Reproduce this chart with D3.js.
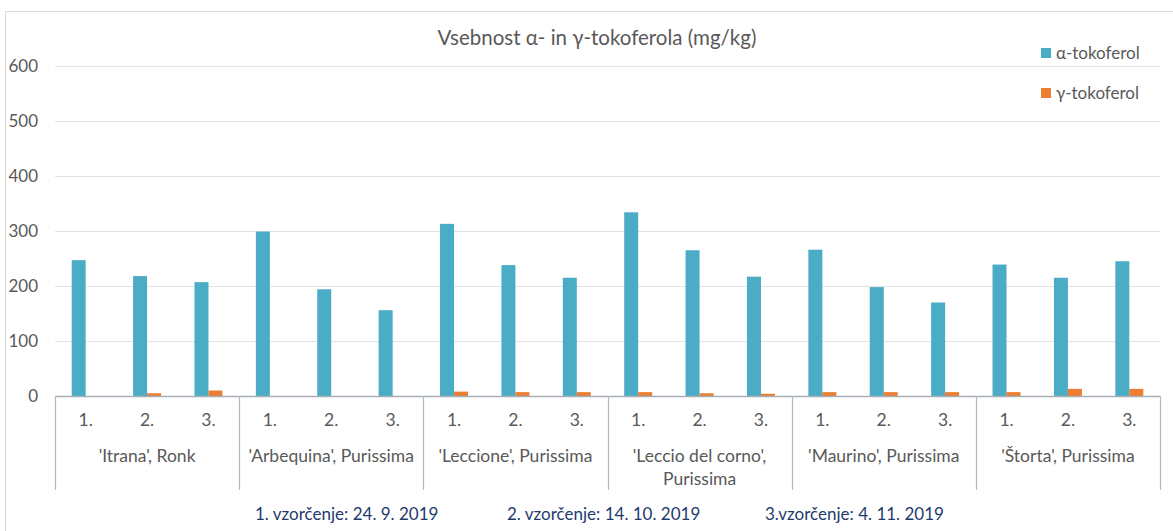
<!DOCTYPE html>
<html>
<head>
<meta charset="utf-8">
<script src="https://cdn.jsdelivr.net/npm/d3@7"></script>
<style>
  body { margin: 0; background: #fff; }
  svg { font-family: Lato, "Open Sans", sans-serif; }
</style>
</head>
<body>
<svg id="chart" width="1173" height="531"></svg>
<script>
// data
var groups = ["'Itrana', Ronk", "'Arbequina', Purissima", "'Leccione', Purissima",
              "'Leccio del corno', Purissima", "'Maurino', Purissima", "'Štorta', Purissima"];
var samplings = ["1.", "2.", "3."];
var seriesNames = ["α-tokoferol", "γ-tokoferol"];
var alphaValues = [247, 218, 207, 299, 194, 156, 313, 238, 215, 334, 265, 217, 266, 198, 170, 239, 215, 245];
var gammaValues = [0, 5, 10, 0, 0, 0, 8, 7, 7, 7, 5, 4, 7, 7, 7, 7, 13, 13];
var yTicks = [0, 100, 200, 300, 400, 500, 600];
var footerNotes = ["1. vzorčenje: 24. 9. 2019", "2. vzorčenje: 14. 10. 2019", "3.vzorčenje: 4. 11. 2019"];
var colors = ["#4bacc6", "#ed7d31"];

var svg = d3.select("#chart");
var plotLeft = 55, plotRight = 1160, plotTop = 66, plotBottom = 396;

// chart border
svg.append("rect")
    .attr("x", 5.5).attr("y", 11.5)
    .attr("width", 1180).attr("height", 540)
    .attr("fill", "none").attr("stroke", "#d9d9d9");

// one slot per group+sampling
var cats = [];
groups.forEach(function(g, gi) {
    samplings.forEach(function(s, si) {
        cats.push({ group: g, gi: gi, label: s, i: gi * 3 + si });
    });
});

var x = d3.scaleBand().domain(cats.map(d => d.i)).range([plotLeft, plotRight]);
var y = d3.scaleLinear().domain([0, 600]).range([plotBottom, plotTop]);
var xg = d3.scaleBand().domain(d3.range(groups.length)).range([plotLeft, plotRight]);

// gridlines
svg.append("g").selectAll("line")
    .data(yTicks.filter(t => t > 0))
    .enter().append("line")
    .attr("x1", plotLeft).attr("x2", plotRight)
    .attr("y1", d => y(d) + 0.5).attr("y2", d => y(d) + 0.5)
    .attr("stroke", "#e3e3e3").attr("stroke-width", 1);

// y tick labels
svg.append("g").selectAll("text")
    .data(yTicks)
    .enter().append("text")
    .attr("x", 38).attr("y", d => y(d))
    .attr("dy", "0.35em")
    .attr("text-anchor", "end")
    .attr("font-size", 17).attr("fill", "#595959")
    .text(d => d);

// bars
var barW = 14;
var bars = svg.append("g");
bars.selectAll("rect.a")
    .data(cats)
    .enter().append("rect").attr("class", "a")
    .attr("x", d => x(d.i) + x.bandwidth() / 2 - barW)
    .attr("y", d => y(alphaValues[d.i]))
    .attr("width", barW)
    .attr("height", d => plotBottom - y(alphaValues[d.i]))
    .attr("fill", colors[0]);
bars.selectAll("rect.g")
    .data(cats)
    .enter().append("rect").attr("class", "g")
    .attr("x", d => x(d.i) + x.bandwidth() / 2)
    .attr("y", d => y(gammaValues[d.i]))
    .attr("width", barW)
    .attr("height", d => plotBottom - y(gammaValues[d.i]))
    .attr("fill", colors[1]);

// x axis line and group separators
svg.append("line")
    .attr("x1", plotLeft).attr("x2", plotRight)
    .attr("y1", plotBottom + 0.5).attr("y2", plotBottom + 0.5)
    .attr("stroke", "#a6aeb8").attr("stroke-width", 1.3);
svg.append("g").selectAll("line")
    .data(d3.range(groups.length + 1))
    .enter().append("line")
    .attr("x1", d => Math.round(plotLeft + d * xg.bandwidth()) + 0.5)
    .attr("x2", d => Math.round(plotLeft + d * xg.bandwidth()) + 0.5)
    .attr("y1", plotBottom).attr("y2", 490)
    .attr("stroke", "#b4bac2").attr("stroke-width", 1.3);

// sampling labels
svg.append("g").selectAll("text")
    .data(cats)
    .enter().append("text")
    .attr("x", d => x(d.i) + x.bandwidth() / 2)
    .attr("y", 426)
    .attr("text-anchor", "middle")
    .attr("font-size", 17.5).attr("fill", "#595959")
    .text(d => d.label);

// group labels (the long one wraps)
var gl = svg.append("g").selectAll("text")
    .data(groups)
    .enter().append("text")
    .attr("x", (d, i) => xg(i) + xg.bandwidth() / 2)
    .attr("y", 462)
    .attr("text-anchor", "middle")
    .attr("font-size", 17.5).attr("fill", "#595959");
gl.each(function(d) {
    var t = d3.select(this);
    var lines = d.length > 24 ? [d.slice(0, d.indexOf(",") + 1), d.slice(d.indexOf(",") + 2)] : [d];
    lines.forEach(function(l, k) {
        t.append("tspan")
            .attr("x", t.attr("x"))
            .attr("dy", k === 0 ? 0 : 23)
            .text(l);
    });
});

// title
svg.append("text")
    .attr("x", 597).attr("y", 45)
    .attr("text-anchor", "middle")
    .attr("font-size", 20.5).attr("fill", "#595959")
    .text("Vsebnost α- in γ-tokoferola (mg/kg)");

// legend
var leg = svg.append("g").selectAll("g")
    .data(seriesNames)
    .enter().append("g")
    .attr("transform", (d, i) => "translate(1041," + (48 + i * 40) + ")");
leg.append("rect")
    .attr("width", 10).attr("height", 10)
    .attr("fill", (d, i) => colors[i]);
leg.append("text")
    .attr("x", 15).attr("y", 5).attr("dy", "0.35em")
    .attr("font-size", 17).attr("fill", "#595959")
    .text(d => d);

// sampling dates below the chart
var footX = [255, 507, 765];
svg.append("g").selectAll("text")
    .data(footerNotes)
    .enter().append("text")
    .attr("x", (d, i) => footX[i]).attr("y", 520)
    .attr("font-size", 17).attr("fill", "#1f3a6e")
    .text(d => d);
</script>
</body>
</html>
